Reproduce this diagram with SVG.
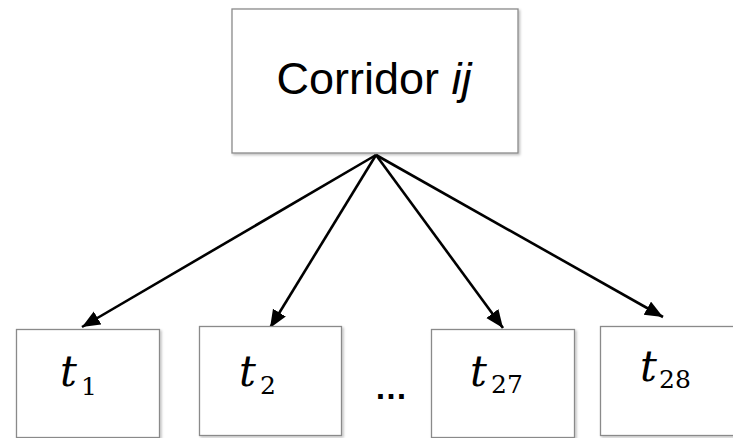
<svg xmlns="http://www.w3.org/2000/svg" width="733" height="438" viewBox="0 0 733 438">
<style>
.box{fill:#ffffff;stroke:#8a8a8a;stroke-width:1.3;filter:url(#sh)}
.edge{stroke:#000;stroke-width:2.6;fill:none;marker-end:url(#ah)}
.main{font-family:"Liberation Sans","Open Sans",sans-serif;font-size:45px;fill:#000}
.it{font-family:"DejaVu Serif","Liberation Serif",serif;font-style:italic;font-size:42px;fill:#000}
.sub{font-family:"DejaVu Serif","Liberation Serif",serif;font-size:25px;fill:#000}
.dots{font-family:"Liberation Sans",sans-serif;font-weight:bold;font-size:33px;fill:#000}
</style>
<defs>
<filter id="sh" x="-10%" y="-10%" width="120%" height="120%">
<feDropShadow dx="1.5" dy="1.5" stdDeviation="1.2" flood-color="#000" flood-opacity="0.25"/>
</filter>
<marker id="ah" markerUnits="userSpaceOnUse" markerWidth="19" markerHeight="16" refX="18" refY="7.5" orient="auto">
<path d="M0,0 L18,7.5 L0,15 z" fill="#000"/>
</marker>
</defs>
<rect width="733" height="438" fill="#ffffff"/>
<g id="edges">
<line class="edge" x1="376" y1="155" x2="82" y2="327"/>
<line class="edge" x1="376" y1="155" x2="270" y2="328"/>
<line class="edge" x1="376" y1="155" x2="503" y2="328"/>
<line class="edge" x1="376" y1="155" x2="663" y2="317"/>
</g>
<g id="corridor">
<rect class="box" x="232" y="9" width="286" height="144"/>
<text class="main" x="374" y="94" text-anchor="middle">Corridor <tspan font-style="italic">ij</tspan></text>
</g>
<g id="t1">
<rect class="box" x="16.5" y="329.5" width="143" height="108"/>
<text><tspan class="it" x="60" y="386">t</tspan><tspan class="sub" x="81" y="395">1</tspan></text>
</g>
<g id="t2">
<rect class="box" x="199.5" y="326.5" width="142" height="109"/>
<text><tspan class="it" x="239" y="386">t</tspan><tspan class="sub" x="260" y="394">2</tspan></text>
</g>
<g id="ellipsis">
<text class="dots" x="374.5" y="399">…</text>
</g>
<g id="t27">
<rect class="box" x="431.5" y="329.5" width="143" height="108"/>
<text><tspan class="it" x="470" y="386">t</tspan><tspan class="sub" x="491" y="393">27</tspan></text>
</g>
<g id="t28">
<rect class="box" x="600.5" y="326.5" width="143" height="109"/>
<text><tspan class="it" x="640" y="381">t</tspan><tspan class="sub" x="659" y="388">28</tspan></text>
</g>
</svg>
